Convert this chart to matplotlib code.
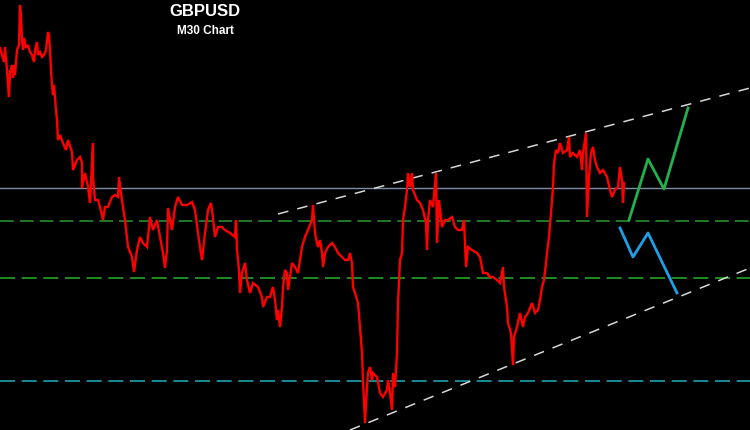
import matplotlib.pyplot as plt

# price trace (bar position, level); y axis is inverted
price_x = [0, 2, 4, 5, 7, 8, 9, 10, 12, 13, 14, 15, 17, 19, 20, 21, 22, 23, 24, 26,
           28, 30, 32, 34, 35, 37, 38, 40, 42, 44, 46, 48, 49, 50, 51, 52, 53, 54, 55, 56,
           57, 58, 60, 63, 66, 68, 72, 73, 77, 80, 82, 82, 85, 88, 90, 93, 93, 95, 98, 100,
           103, 105, 108, 112, 115, 118, 119, 121, 123, 125, 128, 132, 134, 137, 140, 143, 147, 148, 150, 153,
           157, 160, 163, 165, 167, 168, 172, 175, 178, 182, 187, 192, 195, 198, 200, 202, 205, 208, 211, 213,
           215, 218, 222, 225, 230, 235, 236, 237, 239, 240, 242, 245, 247, 250, 253, 258, 262, 263, 267, 270,
           273, 275, 277, 278, 280, 282, 283, 285, 287, 288, 290, 292, 295, 298, 300, 302, 305, 308, 312, 313,
           315, 317, 318, 320, 322, 323, 325, 328, 332, 335, 338, 342, 345, 348, 350, 352, 353, 355, 358, 360,
           362, 363, 365, 367, 368, 370, 372, 373, 377, 380, 383, 387, 388, 390, 392, 393, 395, 397, 398, 400,
           402, 403, 405, 407, 408, 410, 412, 413, 417, 420, 423, 426, 427, 428, 430, 433, 436, 437, 439, 442,
           445, 448, 452, 455, 458, 462, 464, 466, 468, 472, 477, 480, 483, 487, 490, 493, 497, 500, 503, 504,
           507, 508, 511, 513, 514, 517, 520, 523, 525, 528, 532, 535, 538, 540, 542, 544, 546, 547, 549, 551,
           553, 554, 556, 558, 560, 563, 567, 569, 570, 573, 577, 580, 582, 583, 586, 587, 589, 591, 593, 595,
           597, 600, 603, 607, 610, 612, 615, 618, 620, 622, 623, 624]
price_y = [48, 55, 62, 47, 70, 85, 97, 72, 65, 78, 65, 75, 50, 45, 5, 15, 40, 50, 38, 48,
           45, 52, 55, 62, 50, 42, 55, 52, 57, 55, 50, 32, 35, 50, 70, 85, 95, 85, 98, 110,
           120, 140, 135, 143, 150, 140, 152, 170, 160, 157, 163, 188, 173, 187, 203, 143, 177, 200, 200, 207,
           220, 207, 207, 197, 195, 197, 177, 193, 207, 220, 247, 257, 272, 250, 237, 243, 247, 237, 217, 230,
           220, 237, 253, 268, 250, 208, 230, 207, 197, 205, 205, 202, 210, 233, 247, 260, 233, 210, 203, 218,
           237, 227, 227, 230, 233, 237, 220, 250, 270, 293, 273, 263, 280, 293, 283, 287, 297, 307, 297, 297,
           287, 300, 320, 310, 327, 307, 287, 270, 273, 290, 277, 263, 267, 273, 260, 247, 237, 230, 220, 205,
           233, 243, 247, 240, 253, 267, 253, 247, 243, 247, 253, 257, 260, 260, 253, 263, 287, 293, 303, 327,
           353, 380, 423, 387, 373, 367, 380, 373, 377, 393, 397, 390, 380, 393, 410, 373, 387, 353, 303, 260,
           253, 220, 207, 190, 173, 187, 173, 190, 200, 203, 210, 223, 250, 220, 200, 207, 173, 243, 200, 227,
           220, 220, 217, 227, 230, 230, 220, 267, 247, 250, 253, 257, 273, 273, 277, 277, 280, 283, 267, 287,
           307, 323, 333, 365, 337, 327, 313, 327, 317, 313, 303, 313, 310, 300, 287, 280, 263, 253, 237, 213,
           187, 163, 150, 153, 143, 153, 150, 137, 157, 153, 157, 150, 170, 153, 133, 217, 177, 153, 147, 160,
           167, 173, 170, 177, 190, 197, 190, 187, 167, 180, 203, 183]

# horizontal levels
level_solid = 188
levels_green = [221, 278]
level_teal = 381

# channel lines (x0, y0, x1, y1)
upper_channel = [278, 214, 750, 88]
lower_channel = [350, 430, 750, 268]

# projected paths
bull_x = [629, 648, 664, 688]
bull_y = [220, 159, 189, 108]
bear_x = [620, 633, 648, 677]
bear_y = [228, 257, 233, 293]

fig = plt.figure(figsize=(7.5, 4.3), dpi=100, facecolor="black")
ax = fig.add_axes([0, 0, 1, 1])
ax.set_facecolor("black")
ax.set_xlim(0, 750)
ax.set_ylim(430, 0)
ax.axis("off")

ax.axhline(level_solid, color="#7d8da4", lw=1.0)
ax.axhline(levels_green[0], color="#2b9a33", lw=1.1, dashes=(9, 4))
ax.axhline(levels_green[1], color="#22a528", lw=1.2, dashes=(9, 4))
ax.axhline(level_teal, color="#1fa3ad", lw=1.2, dashes=(9, 4))

ax.plot(upper_channel[::2], upper_channel[1::2], color="#d8d8d8", lw=1.1, dashes=(7, 6))
ax.plot(lower_channel[::2], lower_channel[1::2], color="#d8d8d8", lw=1.1, dashes=(7, 6))

ax.plot(price_x, price_y, color="#ff0000", lw=1.7, solid_joinstyle="miter")

ax.plot(bull_x, bull_y, color="#22b14c", lw=2)
ax.plot(bear_x, bear_y, color="#1ea0e6", lw=2)

ax.text(205, 12, "GBPUSD", color="white", fontsize=12, fontweight="bold",
        family="Liberation Sans", ha="center", va="center")
ax.text(205, 31, "M30 Chart", color="white", fontsize=8.5, fontweight="bold",
        family="Liberation Sans", ha="center", va="center")

fig.savefig("out.png", dpi=100, facecolor="black")
